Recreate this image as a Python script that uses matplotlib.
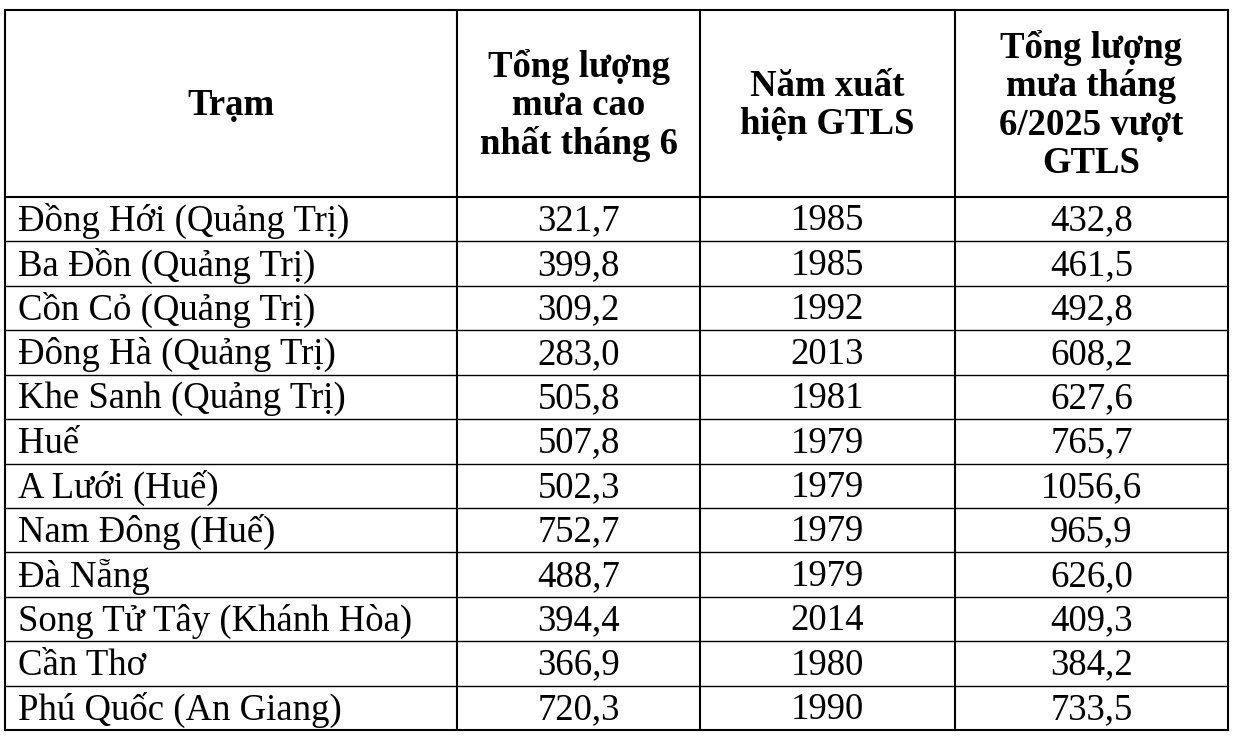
import matplotlib
matplotlib.use("Agg")
import matplotlib.pyplot as plt

headers = ["Trạm", "Tổng lượng\nmưa cao\nnhất tháng 6", "Năm xuất\nhiện GTLS",
           "Tổng lượng\nmưa tháng\n6/2025 vượt\nGTLS"]
stations = ["Đồng Hới (Quảng Trị)", "Ba Đồn (Quảng Trị)", "Cồn Cỏ (Quảng Trị)",
            "Đông Hà (Quảng Trị)", "Khe Sanh (Quảng Trị)", "Huế", "A Lưới (Huế)",
            "Nam Đông (Huế)", "Đà Nẵng", "Song Tử Tây (Khánh Hòa)", "Cần Thơ",
            "Phú Quốc (An Giang)"]
max_rain = ["321,7", "399,8", "309,2", "283,0", "505,8", "507,8", "502,3",
            "752,7", "488,7", "394,4", "366,9", "720,3"]
years = ["1985", "1985", "1992", "2013", "1981", "1979", "1979", "1979",
         "1979", "2014", "1980", "1990"]
rain_2025 = ["432,8", "461,5", "492,8", "608,2", "627,6", "765,7", "1056,6",
             "965,9", "626,0", "409,3", "384,2", "733,5"]

W, H = 1236, 740
col_x = [5, 457, 700, 955, 1228]
top, head_bot, bottom = 10, 197, 730
row_h = (bottom - head_bot) / len(stations)

fig = plt.figure(figsize=(W / 100, H / 100), dpi=100)
ax = fig.add_axes([0, 0, 1, 1])
ax.set_xlim(0, W)
ax.set_ylim(H, 0)
ax.axis("off")

font = "Liberation Serif"
lw = 1.5
for x in col_x:
    ax.plot([x, x], [top, bottom], color="black", lw=lw)
ax.plot([col_x[0], col_x[-1]], [top, top], color="black", lw=lw)
ax.plot([col_x[0], col_x[-1]], [head_bot, head_bot], color="black", lw=lw)
ax.plot([col_x[0], col_x[-1]], [bottom, bottom], color="black", lw=lw)
for i in range(1, len(stations)):
    y = head_bot + i * row_h
    ax.plot([col_x[0], col_x[-1]], [y, y], color="black", lw=1.0)

for j, h in enumerate(headers):
    cx = (col_x[j] + col_x[j + 1]) / 2
    ax.text(cx, (top + head_bot) / 2 + 2, h, ha="center", va="center",
            fontsize=26.5, fontweight="bold", family=font, linespacing=1.12)

for i, name in enumerate(stations):
    cy = head_bot + (i + 0.5) * row_h + 2
    ax.text(18, cy, name, ha="left", va="center", fontsize=26.5, family=font)
    for j, val in enumerate([max_rain[i], years[i], rain_2025[i]], start=1):
        cx = (col_x[j] + col_x[j + 1]) / 2
        ax.text(cx, cy, val, ha="center", va="center", fontsize=26.5, family=font)

fig.savefig("out.png", dpi=100)
